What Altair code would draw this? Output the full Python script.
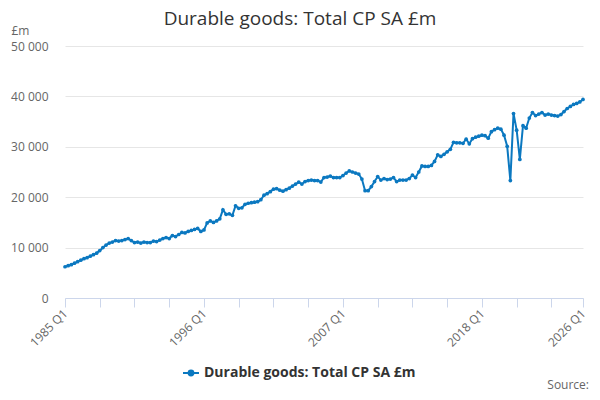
import altair as alt
import pandas as pd

series_name = "Durable goods: Total CP SA £m"
start_year = 1985

# quarterly values, £m
values_1985_1994 = [
    6200, 6400, 6600, 6900, 7200, 7500, 7800, 8000, 8300, 8600,
    8900, 9400, 10000, 10500, 10900, 11100, 11400, 11300, 11400, 11600,
    11800, 11400, 11000, 11100, 10900, 11100, 11000, 11000, 11300, 11200,
    11500, 11800, 12000, 11800, 12400, 12200, 12600, 13000, 12900, 13200,
]
values_1995_2004 = [
    13400, 13600, 13800, 13200, 13500, 14900, 15300, 15000, 15300, 15700,
    17500, 16600, 16700, 16400, 18300, 17800, 17900, 18600, 18800, 18900,
    19000, 19100, 19500, 20400, 20700, 21100, 21600, 21700, 21400, 21200,
    21500, 21800, 22200, 22600, 23000, 22600, 23100, 23300, 23400, 23300,
]
values_2005_2014 = [
    23300, 23000, 23900, 24000, 24200, 23900, 23900, 23900, 24300, 24800,
    25200, 25000, 24800, 24600, 23600, 21300, 21300, 22100, 23100, 24100,
    23400, 23700, 23500, 23600, 23900, 23100, 23400, 23400, 23400, 23700,
    24400, 23900, 25000, 26200, 26100, 26100, 26300, 27100, 28400, 28100,
]
values_2015_2026 = [
    28500, 29000, 29500, 30900, 30800, 30800, 30700, 31500, 30600, 31600,
    31900, 32100, 32300, 32200, 31700, 33000, 33400, 33700, 33500, 32300,
    30100, 23300, 36600, 33300, 27500, 34200, 33700, 35700, 36800, 36200,
    36500, 36800, 36300, 36500, 36300, 36200, 36100, 36400, 37000, 37600,
    38000, 38400, 38600, 38900, 39400,
]

tick_quarters = [0, 11, 22, 33, 44, 55, 66, 77, 88, 99, 110, 121, 132, 143, 154, 164]
label_quarters = [0, 44, 88, 132, 164]
tick_labels = ["1985 Q1", "1996 Q1", "2007 Q1", "2018 Q1", "2026 Q1"]
y_ticks = [0, 10000, 20000, 30000, 40000, 50000]

values = values_1985_1994 + values_1995_2004 + values_2005_2014 + values_2015_2026
df = pd.DataFrame({"q": list(range(len(values))), "value": values, "series": series_name})

line_color = "#0b78c0"
font = "Open Sans"

x_label_expr = "".join(
    f"datum.value == {q} ? '{lab}' : " for q, lab in zip(label_quarters, tick_labels)
) + "''"

line = (
    alt.Chart(df)
    .mark_line(strokeWidth=2, point=alt.OverlayMarkDef(size=14, filled=True))
    .encode(
        x=alt.X(
            "q:Q",
            scale=alt.Scale(domain=[0, 164], nice=False, zero=False),
            axis=alt.Axis(
                values=tick_quarters,
                labelExpr=x_label_expr,
                labelAngle=-45,
                labelAlign="right",
                labelBaseline="middle",
                labelFlush=False,
                labelOverlap=False,
                labelPadding=4,
                grid=False,
                domainColor="#ccd6eb",
                tickColor="#ccd6eb",
                tickSize=9,
                title=None,
            ),
        ),
        y=alt.Y(
            "value:Q",
            scale=alt.Scale(domain=[0, 50000], nice=False),
            axis=alt.Axis(
                values=y_ticks,
                labelExpr="replace(format(datum.value, ','), ',', ' ')",
                domain=False,
                ticks=False,
                labelPadding=17,
                gridColor="#e6e6e6",
                title="£m",
                titleAngle=0,
                titleAlign="left",
                titleBaseline="middle",
                titleX=-54,
                titleY=-16,
                titleFontWeight="normal",
                titleFontSize=12,
                titleColor="#666666",
                titleFont=font,
            ),
        ),
        color=alt.Color(
            "series:N",
            scale=alt.Scale(range=[line_color]),
            legend=alt.Legend(
                title=None,
                orient="none",
                legendX=117,
                legendY=318,
                symbolType="M-1,0H1M-0.3,0A0.3,0.3,0,1,0,0.3,0A0.3,0.3,0,1,0,-0.3,0",
                symbolSize=256,
                symbolStrokeWidth=2,
                symbolStrokeColor=line_color,
                symbolFillColor=line_color,
                labelFontWeight="bold",
                labelFontSize=14,
                labelColor="#333333",
                labelFont=font,
                labelLimit=400,
            ),
        ),
    )
)

# chart title, drawn as a text mark so it sits centred on the whole page
title = (
    alt.Chart(pd.DataFrame({"t": [series_name]}))
    .mark_text(align="center", baseline="middle", fontSize=19, color="#333333", font=font)
    .encode(x=alt.value(235), y=alt.value(-27), text="t:N")
)

source = (
    alt.Chart(pd.DataFrame({"t": ["Source:"]}))
    .mark_text(align="right", baseline="middle", fontSize=12, color="#666666", font=font)
    .encode(x=alt.value(524), y=alt.value(339), text="t:N")
)

chart = (
    alt.layer(line, title, source)
    .properties(
        width=518,
        height=252,
        autosize="none",
        padding={"left": 57, "top": 38, "right": 9, "bottom": 94},
    )
    .configure_view(stroke=None)
    .configure_axis(labelFont=font, labelFontSize=12, labelColor="#666666")
)

chart.save("out.html", embed_options={"renderer": "svg", "actions": False})
